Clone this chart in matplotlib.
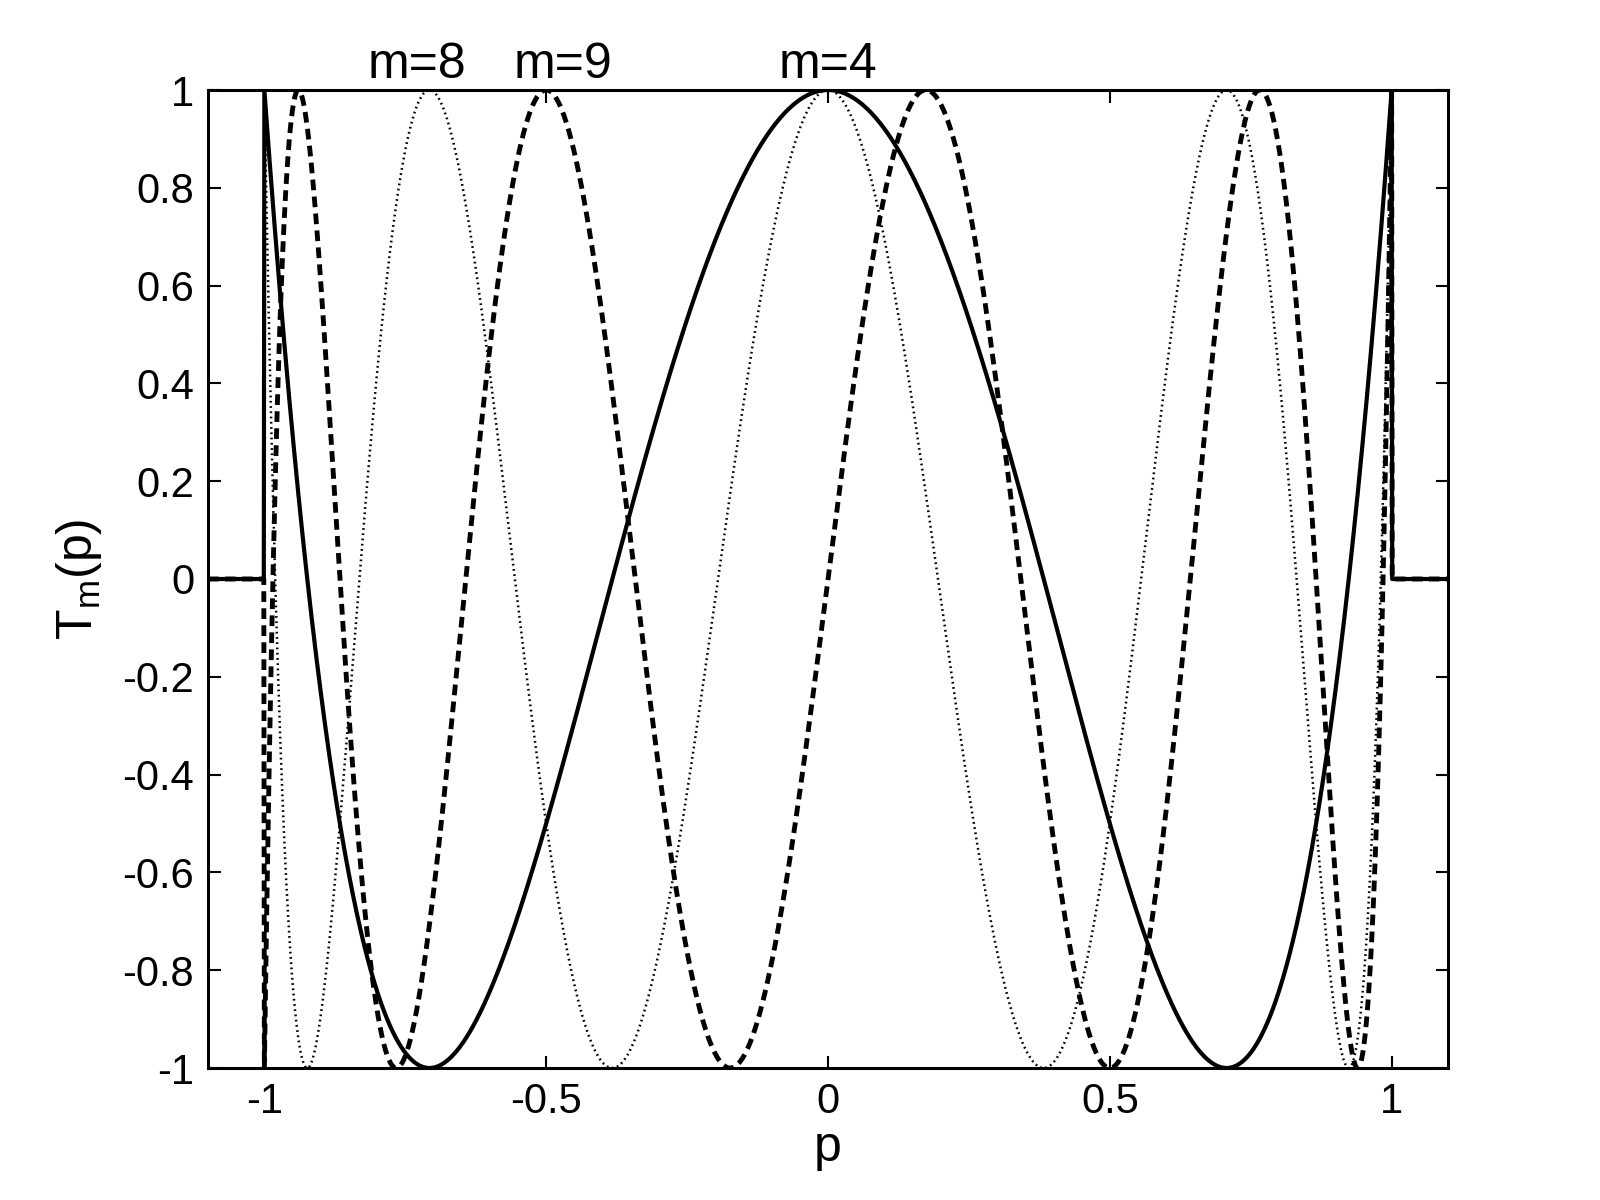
import numpy as np
from numpy.polynomial import Chebyshev
from matplotlib import pyplot as plt

# Chebyshev orders drawn, in plot order, with the style each one uses
orders = [4, 9, 8]
styles = ['-', (0, (2.2, 1.3)), (0, (0.7, 1.4))]
widths = [3.0, 3.5, 1.8]

# labels above the top edge and where they sit along p
label_text = ['m=8', 'm=9', 'm=4']
label_pos = [-0.73, -0.47, 0.0]

xticks = [-1, -0.5, 0, 0.5, 1]
yticks = [-1, -0.8, -0.6, -0.4, -0.2, 0, 0.2, 0.4, 0.6, 0.8, 1]


def chebyshev_window(m, p):
    '''T_m(p) inside [-1,1], zero outside'''
    t = Chebyshev.basis(m)(p)
    return np.where(np.abs(p) <= 1, t, 0.0)


if __name__ == '__main__':
    plt.rcParams['font.family'] = ['Liberation Sans', 'DejaVu Sans']
    plt.rcParams['axes.unicode_minus'] = False

    fig = plt.figure(figsize=(16, 12), dpi=100)
    ax = fig.add_axes([0.13, 0.11, 0.775, 0.815])

    p = np.linspace(-1.1, 1.1, 2201)
    for m, ls, lw in zip(orders, styles, widths):
        ax.plot(p, chebyshev_window(m, p), color='black', linestyle=ls,
                linewidth=lw)

    for txt, x in zip(label_text, label_pos):
        ax.annotate(txt, xy=(x, 1.0), xytext=(0, 9), textcoords='offset points',
                    ha='center', va='baseline', fontsize=36)

    ax.set_xlim(-1.1, 1.1)
    ax.set_ylim(-1, 1)
    ax.set_xticks(xticks)
    ax.set_xticklabels([str(t) for t in xticks])
    ax.set_yticks(yticks)
    ax.set_yticklabels(['%g' % t for t in yticks])
    ax.tick_params(direction='in', length=9, width=1.5, top=True, right=True,
                   labelsize=30, pad=10)
    for s in ax.spines.values():
        s.set_linewidth(2.2)

    ax.set_xlabel('p', fontsize=36, labelpad=2)
    ax.set_ylabel('T$_\\mathregular{m}$(p)', fontsize=36, labelpad=13)

    fig.savefig('out.png', dpi=100, facecolor='white')
